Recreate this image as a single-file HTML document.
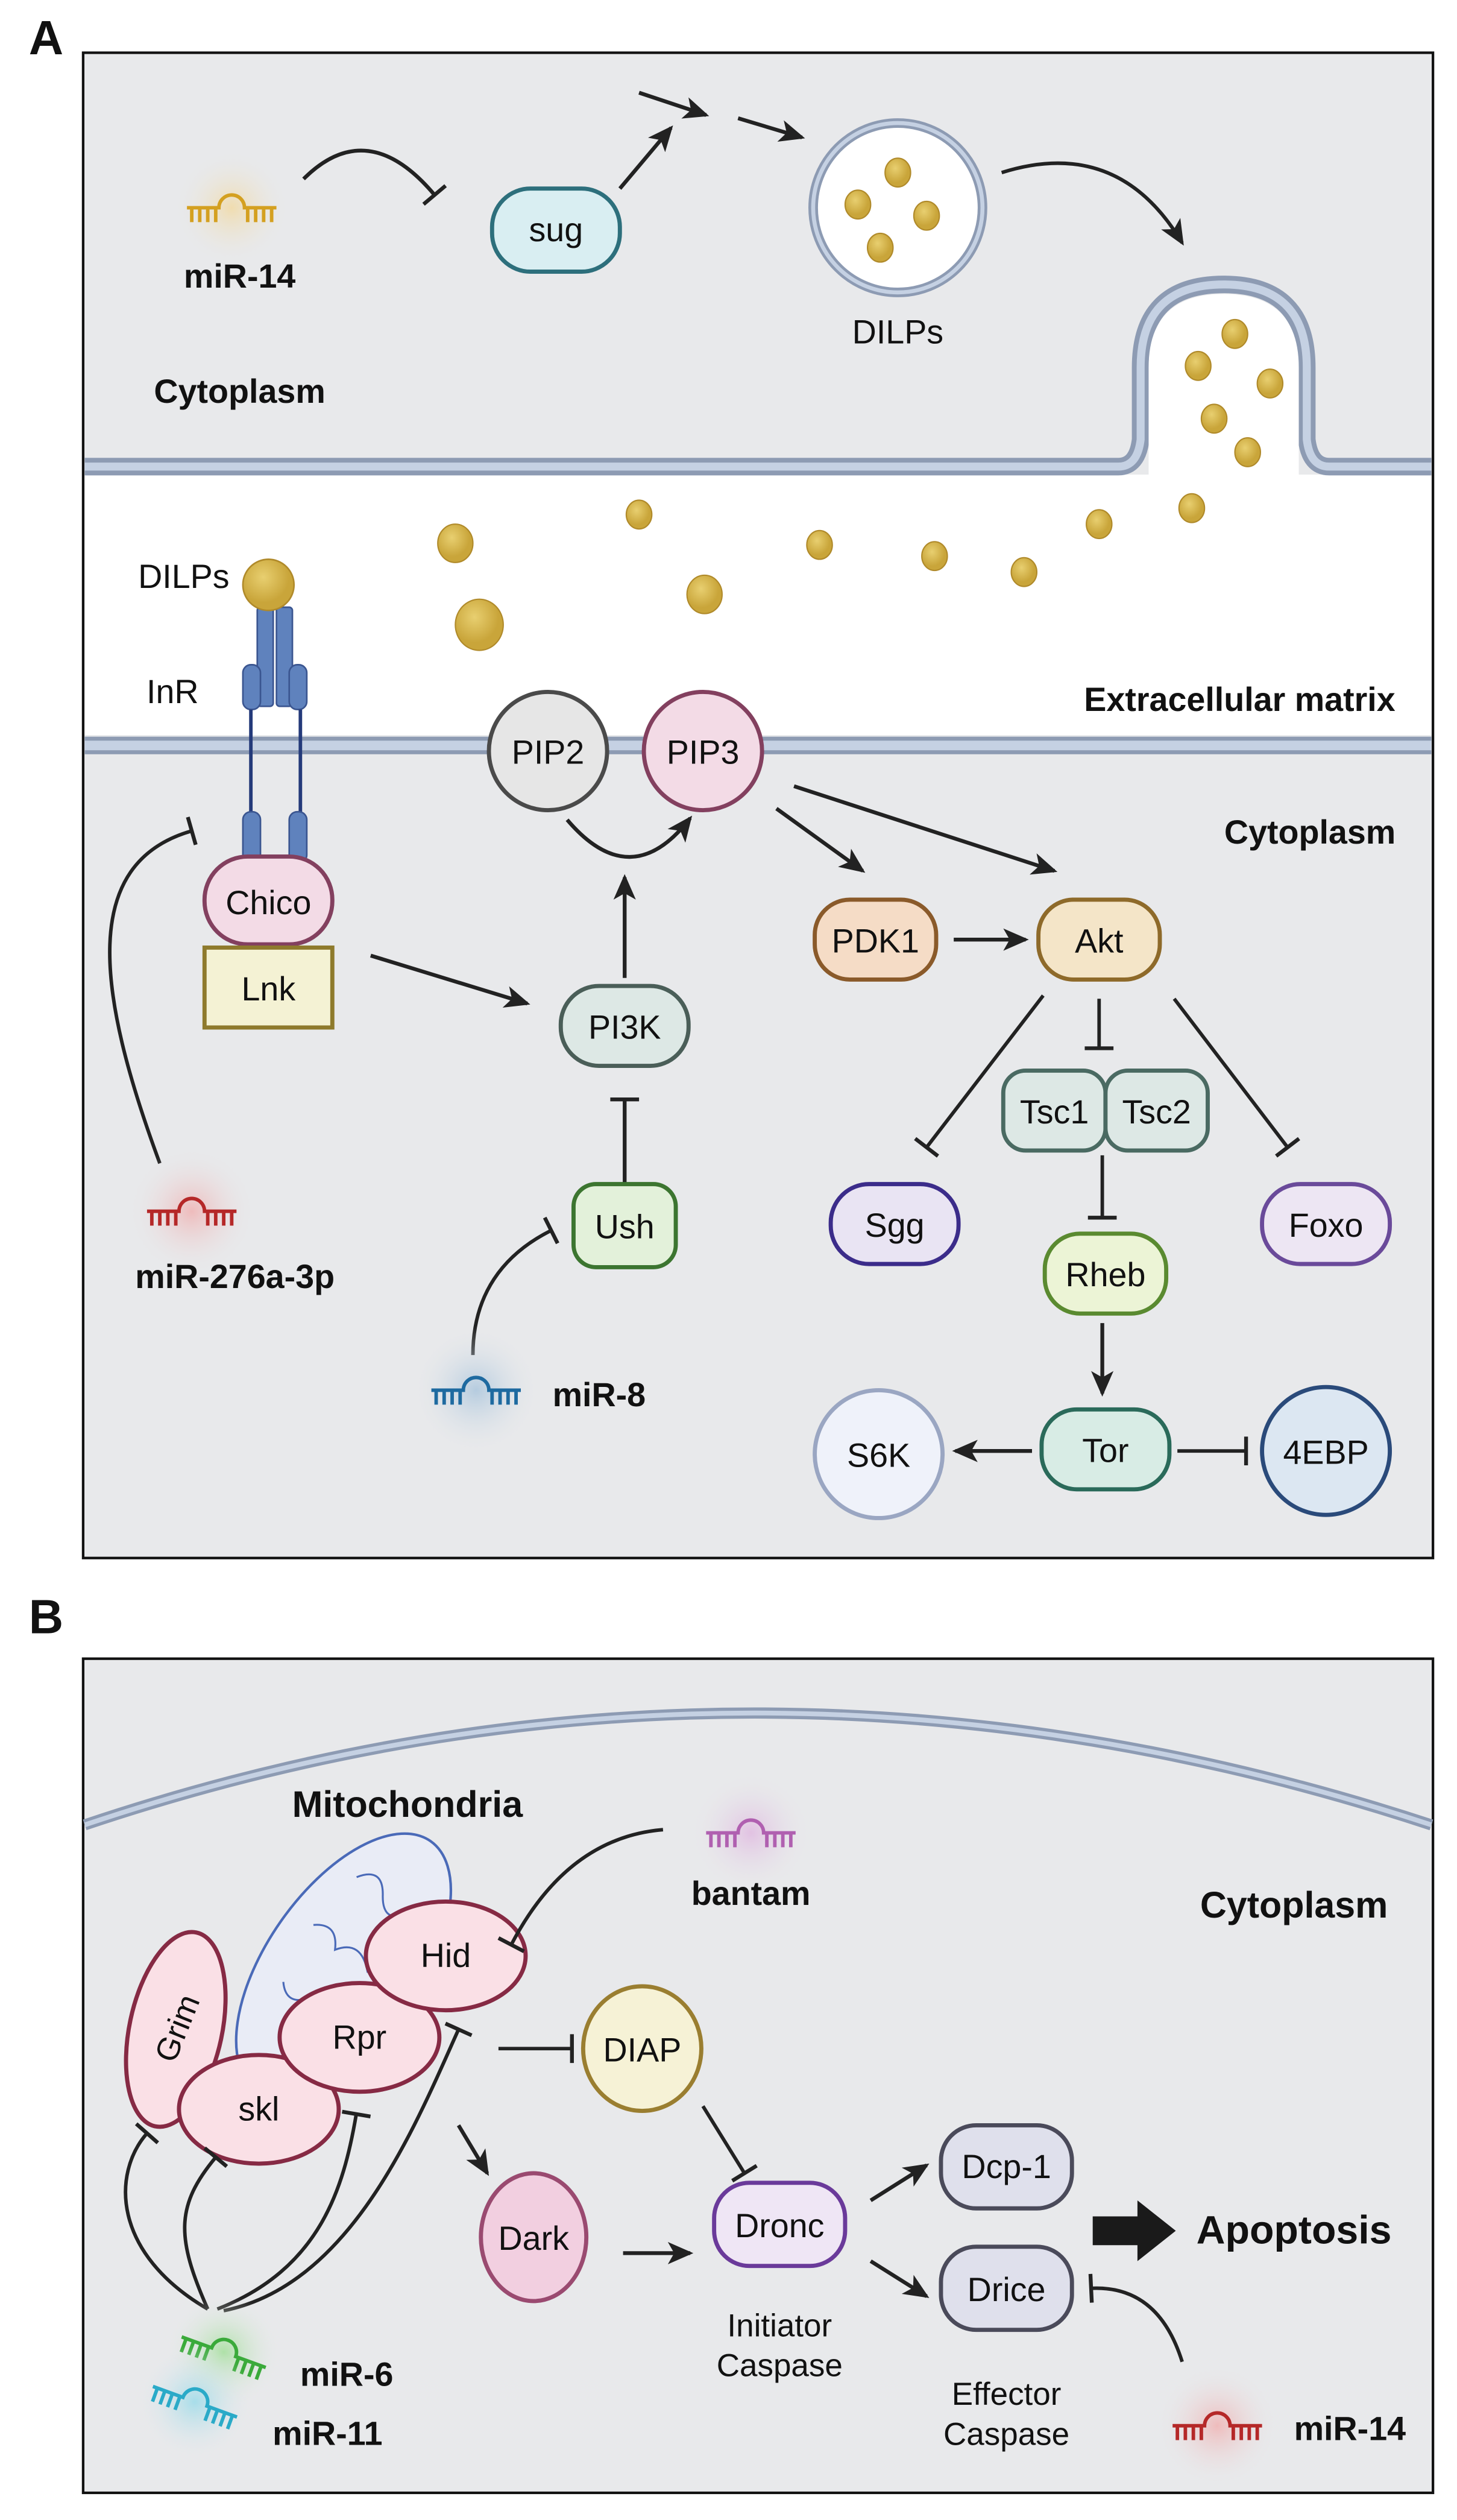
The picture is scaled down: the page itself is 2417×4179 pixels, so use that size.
<!DOCTYPE html>
<html><head><meta charset="utf-8"><style>
html,body{margin:0;padding:0;background:#fff}
svg{display:block}
text{font-family:"Liberation Sans Narrow","Liberation Sans",sans-serif;fill:#111}
.b{font-weight:bold}
</style></head><body>
<svg width="2417" height="4179" viewBox="0 0 912 1577" xmlns="http://www.w3.org/2000/svg">
<defs>
<marker id="ar" markerUnits="userSpaceOnUse" markerWidth="18" markerHeight="16" refX="14" refY="8" orient="auto"><path d="M0,1 L16,8 L0,15 L4,8 Z" fill="#222"/></marker>
<marker id="tb" markerUnits="userSpaceOnUse" markerWidth="6" markerHeight="22" refX="3" refY="11" orient="auto"><path d="M3,2 V20" stroke="#222" stroke-width="2.4"/></marker>
<radialGradient id="gy"><stop offset="0" stop-color="#f2d9a0" stop-opacity=".8"/><stop offset="1" stop-color="#e8e9eb" stop-opacity="0"/></radialGradient>
<radialGradient id="gr"><stop offset="0" stop-color="#f0b0b0" stop-opacity=".8"/><stop offset="1" stop-color="#e8e9eb" stop-opacity="0"/></radialGradient>
<radialGradient id="gb"><stop offset="0" stop-color="#a8c4dc" stop-opacity=".8"/><stop offset="1" stop-color="#e8e9eb" stop-opacity="0"/></radialGradient>
<radialGradient id="gp"><stop offset="0" stop-color="#e0b8e0" stop-opacity=".8"/><stop offset="1" stop-color="#e8e9eb" stop-opacity="0"/></radialGradient>
<radialGradient id="gg"><stop offset="0" stop-color="#a8e0a0" stop-opacity=".9"/><stop offset="1" stop-color="#e8e9eb" stop-opacity="0"/></radialGradient>
<radialGradient id="gc"><stop offset="0" stop-color="#a0dcea" stop-opacity=".9"/><stop offset="1" stop-color="#e8e9eb" stop-opacity="0"/></radialGradient>
<radialGradient id="dot" cx="0.4" cy="0.35"><stop offset="0" stop-color="#e8cf70"/><stop offset="1" stop-color="#c9a53a"/></radialGradient>
<g id="mir"><path d="M-28,0 H-8 A8,8 0 0 1 8,0 H28 M-25,0 v9 M-20,0 v9 M-15,0 v9 M-10,0 v9 M10,0 v9 M15,0 v9 M20,0 v9 M25,0 v9" fill="none" stroke-width="2.2"/></g>
</defs>

<!-- PANEL A -->
<text x="18" y="34" class="b" font-size="30" font-family="Liberation Sans">A</text>
<rect x="52" y="33" width="845" height="942" fill="#e8e9eb" stroke="#111" stroke-width="1.6"/>
<rect x="53" y="297" width="843" height="163" fill="#fff"/>
<path d="M53,292 H700 Q712,292 714,275 V230 Q714,178 766,178 Q818,178 818,230 V275 Q820,292 832,292 H896" fill="none" stroke="#8d9bb3" stroke-width="11"/>
<path d="M53,292 H700 Q712,292 714,275 V230 Q714,178 766,178 Q818,178 818,230 V275 Q820,292 832,292 H896" fill="none" stroke="#c5d1e3" stroke-width="5"/>
<path d="M719,299 V230 Q719,184 766,184 Q813,184 813,230 V299 Z" fill="#fff"/>
<rect x="53" y="461" width="843" height="11" fill="#8d9bb3"/>
<rect x="53" y="463.5" width="843" height="6" fill="#c5d1e3"/>

<g transform="translate(145,130)" stroke="#d4a020"><circle r="36" fill="url(#gy)" stroke="none"/><use href="#mir"/></g>
<text x="150" y="180" class="b" font-size="21" text-anchor="middle">miR-14</text>
<path d="M190,112 Q230,72 272,122" fill="none" stroke="#222" stroke-width="2.4" marker-end="url(#tb)"/>
<rect x="308" y="118" width="80" height="52" rx="24" fill="#d9eef2" stroke="#2d6f7c" stroke-width="2.6"/>
<text x="348" y="151" font-size="21" text-anchor="middle">sug</text>
<path d="M388,118 L420,80" stroke="#222" stroke-width="2.4" marker-end="url(#ar)"/>
<path d="M400,58 L442,72" stroke="#222" stroke-width="2.4" marker-end="url(#ar)"/>
<path d="M462,74 L502,86" stroke="#222" stroke-width="2.4" marker-end="url(#ar)"/>
<circle cx="562" cy="130" r="53" fill="#fff" stroke="#8d9bb3" stroke-width="6"/>
<circle cx="562" cy="130" r="53" fill="none" stroke="#c5d1e3" stroke-width="2.5"/>
<g fill="url(#dot)" stroke="#b08a2a" stroke-width=".8"><ellipse cx="562" cy="108" rx="8" ry="9"/><ellipse cx="537" cy="128" rx="8" ry="9"/><ellipse cx="580" cy="135" rx="8" ry="9"/><ellipse cx="551" cy="155" rx="8" ry="9"/>
<ellipse cx="773" cy="209" rx="8" ry="9"/><ellipse cx="750" cy="229" rx="8" ry="9"/><ellipse cx="795" cy="240" rx="8" ry="9"/><ellipse cx="760" cy="262" rx="8" ry="9"/><ellipse cx="781" cy="283" rx="8" ry="9"/>
<ellipse cx="285" cy="340" rx="11" ry="12"/><ellipse cx="300" cy="391" rx="15" ry="16"/><ellipse cx="400" cy="322" rx="8" ry="9"/><ellipse cx="441" cy="372" rx="11" ry="12"/><ellipse cx="513" cy="341" rx="8" ry="9"/><ellipse cx="585" cy="348" rx="8" ry="9"/><ellipse cx="641" cy="358" rx="8" ry="9"/><ellipse cx="688" cy="328" rx="8" ry="9"/><ellipse cx="746" cy="318" rx="8" ry="9"/></g>
<text x="562" y="215" font-size="21" text-anchor="middle">DILPs</text>
<path d="M627,108 Q700,85 740,152" fill="none" stroke="#222" stroke-width="2.2" marker-end="url(#ar)"/>
<text x="150" y="252" class="b" font-size="21" text-anchor="middle">Cytoplasm</text>

<text x="115" y="368" font-size="21" text-anchor="middle">DILPs</text>
<text x="108" y="440" font-size="21" text-anchor="middle">InR</text>
<g fill="#5f82bd" stroke="#3a5590" stroke-width="1"><rect x="161" y="380" width="10" height="62" rx="2"/><rect x="173" y="380" width="10" height="62" rx="2"/><rect x="152" y="416" width="11" height="28" rx="5"/><rect x="181" y="416" width="11" height="28" rx="5"/></g>
<circle cx="168" cy="366" r="16" fill="url(#dot)" stroke="#b08a2a"/>
<path d="M157,444 V515 M188,444 V515" stroke="#243a7a" stroke-width="2.2"/>
<rect x="152" y="508" width="11" height="32" rx="5" fill="#5f82bd" stroke="#3a5590"/>
<rect x="181" y="508" width="11" height="32" rx="5" fill="#5f82bd" stroke="#3a5590"/>
<rect x="128" y="536" width="80" height="55" rx="27" fill="#f3dbe6" stroke="#83405f" stroke-width="2.6"/>
<text x="168" y="572" font-size="21" text-anchor="middle">Chico</text>
<rect x="128" y="593" width="80" height="50" fill="#f4f2d4" stroke="#8e7a2c" stroke-width="2.6"/>
<text x="168" y="626" font-size="21" text-anchor="middle">Lnk</text>
<text x="776" y="445" class="b" font-size="21" text-anchor="middle">Extracellular matrix</text>
<text x="820" y="528" class="b" font-size="21" text-anchor="middle">Cytoplasm</text>

<circle cx="343" cy="470" r="37" fill="#e6e6e6" stroke="#4a4a4a" stroke-width="2.6"/>
<text x="343" y="478" font-size="21" text-anchor="middle">PIP2</text>
<circle cx="440" cy="470" r="37" fill="#f3dbe6" stroke="#83405f" stroke-width="2.6"/>
<text x="440" y="478" font-size="21" text-anchor="middle">PIP3</text>
<path d="M355,513 Q395,560 432,512" fill="none" stroke="#222" stroke-width="2.4" marker-end="url(#ar)"/>

<path d="M100,728 C60,620 50,540 120,520" fill="none" stroke="#222" stroke-width="2.2" marker-end="url(#tb)"/>
<g transform="translate(120,758)" stroke="#b52828"><circle r="40" fill="url(#gr)" stroke="none"/><use href="#mir"/></g>
<text x="147" y="806" class="b" font-size="21" text-anchor="middle">miR-276a-3p</text>

<path d="M232,598 L330,628" stroke="#222" stroke-width="2.4" marker-end="url(#ar)"/>
<rect x="351" y="617" width="80" height="50" rx="24" fill="#dde8e5" stroke="#4a5e58" stroke-width="2.6"/>
<text x="391" y="650" font-size="21" text-anchor="middle">PI3K</text>
<path d="M391,612 V549" stroke="#222" stroke-width="2.4" marker-end="url(#ar)"/>
<path d="M391,740 V688" stroke="#222" stroke-width="2.4" marker-end="url(#tb)"/>
<rect x="359" y="741" width="64" height="52" rx="14" fill="#e3f1da" stroke="#3c7530" stroke-width="2.6"/>
<text x="391" y="775" font-size="21" text-anchor="middle">Ush</text>
<path d="M296,848 C296,810 315,785 345,770" fill="none" stroke="#222" stroke-width="2.2" marker-end="url(#tb)"/>
<g transform="translate(298,870)" stroke="#1e6aa0"><circle r="40" fill="url(#gb)" stroke="none"/><use href="#mir"/></g>
<text x="375" y="880" class="b" font-size="21" text-anchor="middle">miR-8</text>

<path d="M486,506 L540,545" stroke="#222" stroke-width="2.4" marker-end="url(#ar)"/>
<path d="M497,492 L660,545" stroke="#222" stroke-width="2.4" marker-end="url(#ar)"/>
<rect x="510" y="563" width="76" height="50" rx="22" fill="#f5dcc6" stroke="#8a5a2a" stroke-width="2.6"/>
<text x="548" y="596" font-size="21" text-anchor="middle">PDK1</text>
<path d="M597,588 L642,588" stroke="#222" stroke-width="2.4" marker-end="url(#ar)"/>
<rect x="650" y="563" width="76" height="50" rx="22" fill="#f4e5c8" stroke="#8e6a2a" stroke-width="2.6"/>
<text x="688" y="596" font-size="21" text-anchor="middle">Akt</text>
<path d="M653,623 L580,718" stroke="#222" stroke-width="2.2" marker-end="url(#tb)"/>
<path d="M688,625 L688,656" stroke="#222" stroke-width="2.2" marker-end="url(#tb)"/>
<path d="M735,625 L806,718" stroke="#222" stroke-width="2.2" marker-end="url(#tb)"/>
<rect x="628" y="670" width="64" height="50" rx="14" fill="#dde8e5" stroke="#4a6a62" stroke-width="2.6"/>
<text x="660" y="703" font-size="21" text-anchor="middle">Tsc1</text>
<rect x="692" y="670" width="64" height="50" rx="14" fill="#dde8e5" stroke="#4a6a62" stroke-width="2.6"/>
<text x="724" y="703" font-size="21" text-anchor="middle">Tsc2</text>
<rect x="520" y="741" width="80" height="50" rx="24" fill="#e9e4f3" stroke="#3b2c8a" stroke-width="2.6"/>
<text x="560" y="774" font-size="21" text-anchor="middle">Sgg</text>
<rect x="790" y="741" width="80" height="50" rx="24" fill="#ede6f3" stroke="#6a4a9a" stroke-width="2.6"/>
<text x="830" y="774" font-size="21" text-anchor="middle">Foxo</text>
<path d="M690,723 V762" stroke="#222" stroke-width="2.2" marker-end="url(#tb)"/>
<rect x="654" y="772" width="76" height="50" rx="22" fill="#ecf4d6" stroke="#5a8a30" stroke-width="2.6"/>
<text x="692" y="805" font-size="21" text-anchor="middle">Rheb</text>
<path d="M690,828 V872" stroke="#222" stroke-width="2.4" marker-end="url(#ar)"/>
<rect x="652" y="882" width="80" height="50" rx="22" fill="#d8ece5" stroke="#2a6a5a" stroke-width="2.6"/>
<text x="692" y="915" font-size="21" text-anchor="middle">Tor</text>
<path d="M646,908 L598,908" stroke="#222" stroke-width="2.4" marker-end="url(#ar)"/>
<circle cx="550" cy="910" r="40" fill="#eff2fa" stroke="#9aa6c2" stroke-width="2.6"/>
<text x="550" y="918" font-size="21" text-anchor="middle">S6K</text>
<path d="M737,908 L780,908" stroke="#222" stroke-width="2.2" marker-end="url(#tb)"/>
<circle cx="830" cy="908" r="40" fill="#dce7f2" stroke="#2a4a7a" stroke-width="2.6"/>
<text x="830" y="916" font-size="21" text-anchor="middle">4EBP</text>

<!-- PANEL B -->
<text x="18" y="1022" class="b" font-size="30" font-family="Liberation Sans">B</text>
<rect x="52" y="1038" width="845" height="522" fill="#e8e9eb" stroke="#111" stroke-width="1.6"/>
<path d="M53,1142 Q470,1002 896,1142" fill="none" stroke="#8d9bb3" stroke-width="7"/>
<path d="M53,1142 Q470,1002 896,1142" fill="none" stroke="#c5d1e3" stroke-width="3"/>
<text x="255" y="1137" class="b" font-size="23" text-anchor="middle">Mitochondria</text>
<g transform="rotate(35 215 1230)"><ellipse cx="215" cy="1230" rx="48" ry="95" fill="#e9ecf6" stroke="#4a6ab8" stroke-width="1.6"/>
<path d="M190,1180 q10,-15 20,0 q10,15 20,0 M185,1220 q12,-10 20,5 q10,-15 25,0 M190,1260 q10,12 20,-2 q12,12 22,0" fill="none" stroke="#4a6ab8" stroke-width="1.2"/></g>
<g fill="#fae0e6" stroke="#862a44" stroke-width="2.6">
<ellipse cx="110" cy="1270" rx="29" ry="62" transform="rotate(12 110 1270)"/>
<ellipse cx="162" cy="1320" rx="50" ry="34"/>
<ellipse cx="225" cy="1275" rx="50" ry="34"/>
<ellipse cx="279" cy="1224" rx="50" ry="34"/></g>
<text x="112" y="1278" font-size="20" text-anchor="middle" transform="rotate(-68 110 1271)">Grim</text>
<text x="162" y="1327" font-size="21" text-anchor="middle">skl</text>
<text x="225" y="1282" font-size="21" text-anchor="middle">Rpr</text>
<text x="279" y="1231" font-size="21" text-anchor="middle">Hid</text>

<g transform="translate(470,1147)" stroke="#b060b0"><circle r="38" fill="url(#gp)" stroke="none"/><use href="#mir"/></g>
<text x="470" y="1192" class="b" font-size="21" text-anchor="middle">bantam</text>
<path d="M415,1145 Q355,1150 320,1217" fill="none" stroke="#222" stroke-width="2.2" marker-end="url(#tb)"/>
<text x="810" y="1200" class="b" font-size="23" text-anchor="middle">Cytoplasm</text>

<path d="M312,1282 L358,1282" stroke="#222" stroke-width="2.2" marker-end="url(#tb)"/>
<ellipse cx="402" cy="1282" rx="37" ry="39" fill="#f6f2d6" stroke="#9a7e30" stroke-width="2.6"/>
<text x="402" y="1290" font-size="21" text-anchor="middle">DIAP</text>
<path d="M440,1318 L466,1360" stroke="#222" stroke-width="2.2" marker-end="url(#tb)"/>
<path d="M287,1330 L305,1360" stroke="#222" stroke-width="2.4" marker-end="url(#ar)"/>
<ellipse cx="334" cy="1400" rx="33" ry="40" fill="#f2cfe0" stroke="#9a4a70" stroke-width="2.6"/>
<text x="334" y="1408" font-size="21" text-anchor="middle">Dark</text>
<path d="M390,1410 L432,1410" stroke="#222" stroke-width="2.4" marker-end="url(#ar)"/>
<rect x="447" y="1366" width="82" height="52" rx="22" fill="#efe6f5" stroke="#6a3a9a" stroke-width="2.6"/>
<text x="488" y="1400" font-size="21" text-anchor="middle">Dronc</text>
<text x="488" y="1462" font-size="20" text-anchor="middle">Initiator</text>
<text x="488" y="1487" font-size="20" text-anchor="middle">Caspase</text>
<path d="M545,1377 L580,1355" stroke="#222" stroke-width="2.4" marker-end="url(#ar)"/>
<path d="M545,1415 L580,1437" stroke="#222" stroke-width="2.4" marker-end="url(#ar)"/>
<rect x="589" y="1330" width="82" height="52" rx="22" fill="#dfe0ec" stroke="#4a4a5a" stroke-width="2.6"/>
<text x="630" y="1363" font-size="21" text-anchor="middle">Dcp-1</text>
<rect x="589" y="1406" width="82" height="52" rx="22" fill="#dfe0ec" stroke="#4a4a5a" stroke-width="2.6"/>
<text x="630" y="1440" font-size="21" text-anchor="middle">Drice</text>
<text x="630" y="1505" font-size="20" text-anchor="middle">Effector</text>
<text x="630" y="1530" font-size="20" text-anchor="middle">Caspase</text>
<path d="M684,1387 H712 V1377 L736,1396 L712,1415 V1405 H684 Z" fill="#1a1a1a"/>
<text x="810" y="1404" class="b" font-size="25" text-anchor="middle">Apoptosis</text>
<path d="M740,1478 Q725,1430 683,1432" fill="none" stroke="#222" stroke-width="2.2" marker-end="url(#tb)"/>
<g transform="translate(762,1518)" stroke="#b52828"><circle r="38" fill="url(#gr)" stroke="none"/><use href="#mir"/></g>
<text x="845" y="1527" class="b" font-size="21" text-anchor="middle">miR-14</text>

<g fill="none" stroke="#222" stroke-width="2.2">
<path d="M130,1445 C70,1410 70,1360 92,1335" marker-end="url(#tb)"/>
<path d="M130,1445 C110,1400 110,1380 135,1350" marker-end="url(#tb)"/>
<path d="M136,1445 C200,1420 215,1370 223,1323" marker-end="url(#tb)"/>
<path d="M140,1446 C220,1430 260,1330 287,1270" marker-end="url(#tb)"/>
</g>
<g transform="translate(140,1472) rotate(20)" stroke="#3aaa3a"><circle r="36" fill="url(#gg)" stroke="none"/><use href="#mir"/></g>
<g transform="translate(122,1503) rotate(20)" stroke="#2aaac8"><circle r="36" fill="url(#gc)" stroke="none"/><use href="#mir"/></g>
<text x="217" y="1493" class="b" font-size="21" text-anchor="middle">miR-6</text>
<text x="205" y="1530" class="b" font-size="21" text-anchor="middle">miR-11</text>
</svg>
</body></html>
